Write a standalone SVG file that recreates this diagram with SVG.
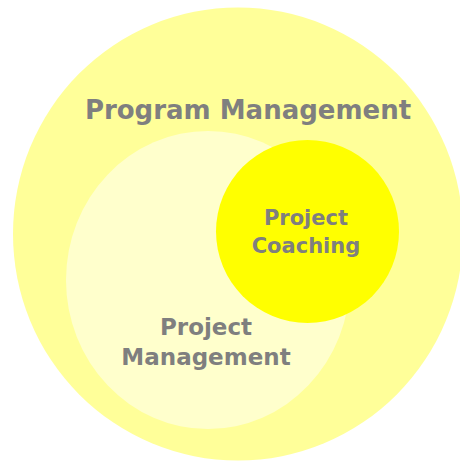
<svg xmlns="http://www.w3.org/2000/svg" width="460" height="462" viewBox="0 0 460 462">
<style>
.lbl{font-family:"DejaVu Sans","Liberation Sans",sans-serif;font-weight:bold;fill:#7f7f7f;text-anchor:middle}
</style>
<rect width="460" height="462" fill="#ffffff"/>
<g id="program-management">
<ellipse cx="238" cy="234" rx="225" ry="226.5" fill="#ffff99"/>
<text class="lbl" x="248" y="119" font-size="26">Program Management</text>
</g>
<g id="project-management">
<ellipse cx="208" cy="280" rx="142" ry="149" fill="#ffffcc"/>
<text class="lbl" x="206" y="335" font-size="23">Project</text>
<text class="lbl" x="206" y="365" font-size="23">Management</text>
</g>
<g id="project-coaching">
<circle cx="307.5" cy="231.5" r="91.5" fill="#ffff00"/>
<text class="lbl" x="306" y="225" font-size="21">Project</text>
<text class="lbl" x="306" y="253" font-size="21">Coaching</text>
</g>
<g id="connectors"></g>
</svg>
